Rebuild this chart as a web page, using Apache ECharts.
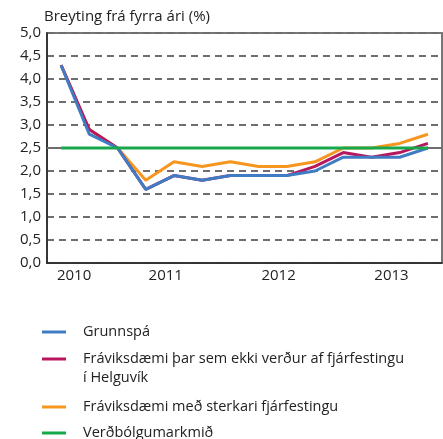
<!DOCTYPE html>
<html>
<head>
<meta charset="utf-8">
<script src="https://cdn.jsdelivr.net/npm/echarts@6/dist/echarts.min.js"></script>
<style>
html,body{margin:0;padding:0;background:#fff;}
#main{width:443px;height:439px;}
</style>
</head>
<body>
<div id="main"></div>
<script>
// ársfjórðungar, 2010 F3 til 2013 F4
var quarters = ['2010F3','2010F4','2011F1','2011F2','2011F3','2011F4','2012F1','2012F2','2012F3','2012F4','2013F1','2013F2','2013F3','2013F4'];

var grunnspa = [4.3, 2.8, 2.5, 1.6, 1.9, 1.8, 1.9, 1.9, 1.9, 2.0, 2.3, 2.3, 2.3, 2.5];
var helguvik = [4.3, 2.9, 2.5, 1.6, 1.9, 1.8, 1.9, 1.9, 1.9, 2.1, 2.4, 2.3, 2.4, 2.6];
var sterkari = [4.3, 2.9, 2.5, 1.8, 2.2, 2.1, 2.2, 2.1, 2.1, 2.2, 2.5, 2.5, 2.6, 2.8];
var markmid  = [2.5, 2.5, 2.5, 2.5, 2.5, 2.5, 2.5, 2.5, 2.5, 2.5, 2.5, 2.5, 2.5, 2.5];

var names = ['Grunnspá', 'Fráviksdæmi þar sem ekki verður af fjárfestingu', 'Fráviksdæmi með sterkari fjárfestingu', 'Verðbólgumarkmið'];
var colors = ['#3f7cc4', '#b8175e', '#f7961f', '#18a84c'];

var font = 'Open Sans';
var yearLabelIdx = [0, 3, 7, 11];
var yearTickIdx = [0, 2, 6, 10];

/*ein þjóðsaga á hverja röð*/
var legend_rows = [332, 359, 407, 433];
function make_legend(i){
	return {
		data: [names[i]],
		left: 42,
		top: legend_rows[i] - 9,
		padding: 0,
		itemWidth: 24,
		itemHeight: 3,
		icon: 'rect',
		selectedMode: false,
		textStyle: {
			fontFamily: font,
			fontSize: 14.5,
			color: '#222',
			lineHeight: 18,
			padding: [0, 0, 0, 12]
		}
	};
}

function line_series(i, data, z){
	return {
		name: names[i],
		type: 'line',
		data: data,
		symbol: 'none',
		z: z,
		lineStyle: { color: colors[i], width: 3 },
		itemStyle: { color: colors[i] }
	};
}

var chart = echarts.init(document.getElementById('main'));
chart.setOption({
	animation: false,
	title: {
		text: 'Breyting frá fyrra ári (%)',
		left: 44,
		top: 9,
		padding: 0,
		textStyle: { fontFamily: font, fontSize: 15, fontWeight: 'normal', color: '#222' }
	},
	legend: [make_legend(0), make_legend(1), make_legend(2), make_legend(3)],
	graphic: [{
		type: 'text',
		left: 83,
		top: 370,
		style: { text: 'í Helguvík', fontFamily: font, fontSize: 14.5, fill: '#222' }
	}],
	grid: {
		left: 47, right: 1, top: 33, bottom: 176,
		show: true, borderColor: '#777', borderWidth: 2
	},
	xAxis: {
		type: 'category',
		data: quarters,
		boundaryGap: true,
		axisLine: { lineStyle: { color: '#222', width: 1.5 } },
		axisTick: {
			length: 6,
			lineStyle: { color: '#222', width: 1.5 },
			interval: function (idx) { return yearTickIdx.indexOf(idx) >= 0; }
		},
		axisLabel: {
			interval: function (idx) { return yearLabelIdx.indexOf(idx) >= 0; },
			formatter: function (v, idx) {
				return idx == 0 ? '{a|' + v.slice(0, 4) + '}' : '{b|' + v.slice(0, 4) + '}';
			},
			margin: 5,
			fontFamily: font, fontSize: 15, color: '#222',
			rich: {
				a: { fontFamily: font, fontSize: 15, color: '#222', padding: [0, 0, 0, 26] },
				b: { fontFamily: font, fontSize: 15, color: '#222', padding: [0, 0, 0, 40] }
			}
		}
	},
	yAxis: {
		type: 'value',
		min: 0, max: 5, interval: 0.5,
		axisLine: { show: true, lineStyle: { color: '#222', width: 1.5 } },
		axisTick: { show: false },
		axisLabel: {
			margin: 6,
			formatter: function (v) { return v.toFixed(1).replace('.', ','); },
			fontFamily: font, fontSize: 15, color: '#222'
		},
		splitLine: { lineStyle: { color: '#6e6e6e', width: 2, type: [7, 5] } }
	},
	series: [
		line_series(2, sterkari, 2),
		line_series(1, helguvik, 3),
		line_series(0, grunnspa, 4),
		{
			name: names[3],
			type: 'line',
			data: markmid,
			symbol: 'none',
			z: 5,
			lineStyle: { color: colors[3], width: 3 },
			itemStyle: { color: colors[3] },
			markLine: {
				silent: true,
				symbol: 'none',
				z: 1,
				label: { show: false },
				lineStyle: { color: '#6e6e6e', width: 2, type: 'solid' },
				data: [{ yAxis: 2.5 }]
			}
		}
	]
});
</script>
</body>
</html>
